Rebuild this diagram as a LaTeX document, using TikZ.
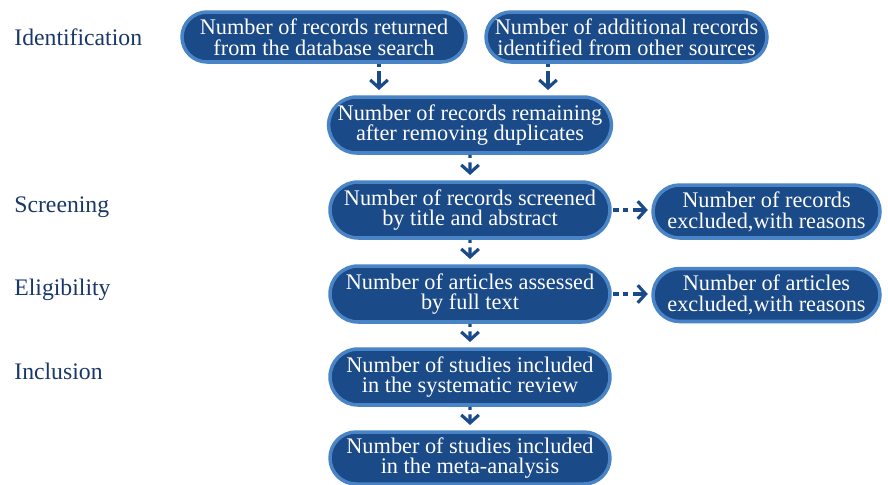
\documentclass[tikz,border=0pt]{standalone}
\usepackage{fontspec}
\setmainfont{Liberation Serif}
\usetikzlibrary{arrows.meta, shapes.misc}
\definecolor{boxblue}{RGB}{27,74,136}
\definecolor{rimblue}{RGB}{72,132,198}
\definecolor{labelblue}{RGB}{25,55,105}

\begin{document}
\begin{tikzpicture}[x=0.02cm, y=-0.02cm,
    stage/.style = {anchor=west, inner sep=0pt, text=labelblue, font=\fontsize{13.5}{14}\selectfont},
    box/.style = {rounded rectangle, fill=boxblue, draw=rimblue, line width=2pt, inner sep=0pt,
        text=white, align=center, font=\fontsize{12.7}{11.8}\selectfont, minimum height=1.12cm, minimum width=5.6cm},
    side/.style = {box, minimum width=4.54cm, minimum height=1.06cm},
    down/.style = {draw=boxblue, line width=1.8pt, -{Straight Barb[length=4.5pt, width=10pt]},
        dash pattern=on 1.8pt off 2.5pt on 40pt, shorten >=3pt},
    over/.style = {down, dash pattern=on 3pt off 2.5pt on 3pt off 2.5pt on 40pt, shorten <=1pt, shorten >=2pt}]
    \useasboundingbox (0,0) rectangle (888,484);
    \node[stage] (ident) at (14,37) {Identification};
    \node[stage] (screen) at (14,207) {Screening};
    \node[stage] (elig) at (14,290) {Eligibility};
    \node[stage] (incl) at (14,371) {Inclusion};
    \node[box, minimum width=5.68cm, minimum height=1cm] (b1) at (324,37) {Number of records returned\\from the database search};
    \node[box, minimum width=5.62cm, minimum height=1cm] (b2) at (626.5,37) {Number of additional records\\identified from other sources};
    \node[box] (b3) at (470,125) {Number of records remaining\\after removing duplicates};
    \node[box] (b4) at (470,210) {Number of records screened\\by title and abstract};
    \node[side] (b5) at (766.5,211.5) {Number of records\\excluded,with reasons};
    \node[box] (b6) at (470,294) {Number of articles assessed\\by full text};
    \node[side] (b7) at (766.5,295) {Number of articles\\excluded,with reasons};
    \node[box] (b8) at (470,377) {Number of studies included\\in the systematic review};
    \node[box, minimum height=1.04cm] (b9) at (470,458) {Number of studies included\\in the meta-analysis};
    \draw[down] (379,0 |- b1.south) -- (379,0 |- b3.north);
    \draw[down] (548,0 |- b2.south) -- (548,0 |- b3.north);
    \draw[down] (b3) -- (b4);
    \draw[down] (b4) -- (b6);
    \draw[down] (b6) -- (b8);
    \draw[down] (b8) -- (b9);
    \draw[over] (b4.east) -- (b4.east -| b5.west);
    \draw[over] (b6.east) -- (b6.east -| b7.west);
\end{tikzpicture}
\end{document}
